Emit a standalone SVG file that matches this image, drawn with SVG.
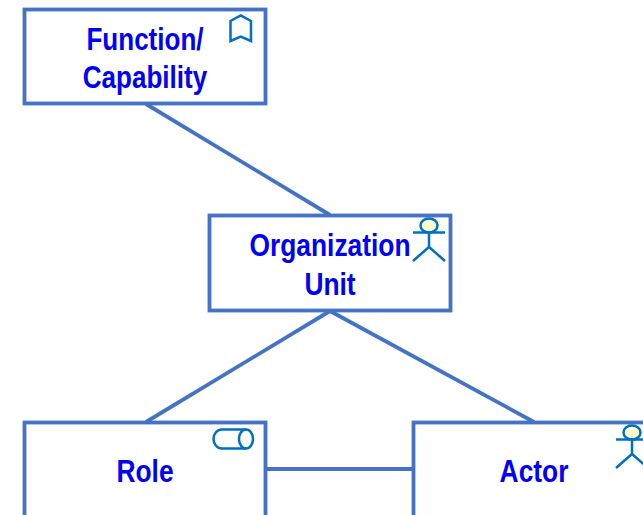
<svg xmlns="http://www.w3.org/2000/svg" width="643" height="515" viewBox="0 0 643 515">
<defs>
<style>
.box{fill:#fff;stroke:#4472C4;stroke-width:3.8}
.conn{stroke:#4472C4;stroke-width:3.8;fill:none}
.ic{stroke:#0070C0;stroke-width:2.5;fill:none}
.head{stroke:#0070C0;stroke-width:2.5;fill:#FFFFCC}
text{font-family:"Liberation Sans",Arial,sans-serif;font-weight:700;font-size:31px;fill:#0000F5;text-anchor:middle}
</style>
<g id="actor-icon"><ellipse class="head" cx="0" cy="8.500" rx="8.500" ry="7"/><path class="ic" d="M-16 15.500H16M0 15.500V30M-16 44L0 30L16 44"/></g>
</defs>
<rect width="643" height="515" fill="#fff"/>
<g id="connectors">
<path class="conn" d="M146 104L330 215"/>
<path class="conn" d="M330 311L146 422"/>
<path class="conn" d="M330 311L534 422"/>
<path class="conn" d="M266 469H414"/>
</g>
<g id="function-capability">
<rect class="box" x="24.500" y="9.500" width="241" height="94"/>
<path class="ic" d="M230.500 21L240.700 15.500L251 21V41L240.700 36.500L230.500 41Z"/>
<text transform="translate(145,50) scale(.84,1)">Function/</text>
<text transform="translate(145,88) scale(.84,1)">Capability</text>
</g>
<g id="organization-unit">
<rect class="box" x="209.500" y="215.500" width="241" height="95"/>
<use href="#actor-icon" x="429" y="217"/>
<text transform="translate(330,256) scale(.85,1)">Organization</text>
<text transform="translate(330,295) scale(.85,1)">Unit</text>
</g>
<g id="role">
<rect class="box" x="24.500" y="422.500" width="241" height="100"/>
<path class="ic" d="M246 429.500H222A8.500 9.500 0 0 0 222 448.500H246"/>
<ellipse class="ic" cx="246" cy="439" rx="7" ry="9.500"/>
<text transform="translate(145,482) scale(.85,1)">Role</text>
</g>
<g id="actor">
<rect class="box" x="413.500" y="422.500" width="241" height="100"/>
<use href="#actor-icon" x="632" y="424"/>
<text transform="translate(534,482) scale(.85,1)">Actor</text>
</g>
</svg>
